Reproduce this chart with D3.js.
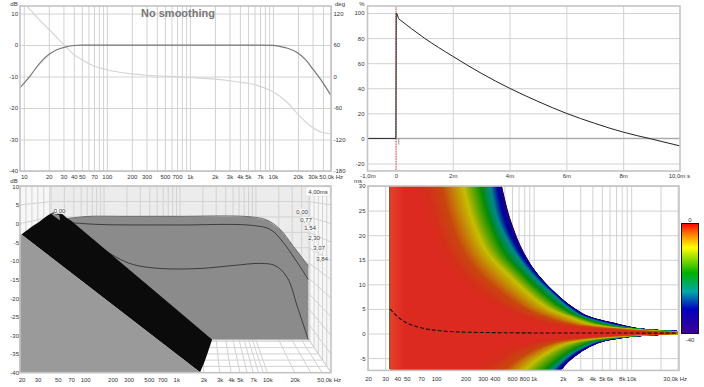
<!DOCTYPE html>
<html><head><meta charset="utf-8">
<script src="https://cdn.jsdelivr.net/npm/d3@7/dist/d3.min.js"></script>
<style>
html,body{margin:0;padding:0;background:#fff;overflow:hidden}
text{font-family:"Liberation Sans",Arial,sans-serif;font-size:6px;fill:#333}
</style></head><body>
<svg id="c" width="704" height="387"></svg>
<script>
// ---------- data ----------
const decadeGrid=[10,20,30,40,50,60,70,80,90,100,200,300,400,500,600,700,800,900,1000,2000,3000,4000,5000,6000,7000,8000,9000,10000,20000,30000,40000,50000];
const responseTicks=[10,20,30,40,50,70,100,200,300,500,700,1000,2000,3000,4000,5000,7000,10000,20000,30000];
const responseFreq=[9,10,12,15,20,25,30,40,50,70,100,1000,7000,10000,12000,15000,20000,25000,30000,40000,50000];
const responseDb=[-13.6,-12.2,-9.7,-6.3,-3,-1.5,-0.8,-0.15,0,0,0,0,-0.02,-0.1,-0.4,-1,-2.5,-4.8,-7.5,-12,-16];
const phaseFreq=[11,15,20,30,40,50,70,100,200,300,500,700,1000,2000,3000,4000,5000,7000,10000,15000,20000,30000,40000,50000];
const phaseDeg=[133,110,90,61,42,32,20,13,5,2.5,0.5,-0.3,-2,-5,-8,-11,-13,-19,-29,-50,-72,-97,-107,-109];
const dbTicks=[10,0,-10,-20,-30,-40];
const degTicks=[120,60,0,-60,-120,-180];

const spikeMs=[-1,0,0.01,0.05,0.09];
const spikePct=[0,0,100,99,95.5];
const decayMs=[0.09,1,2,3,4,5,6,7,8,9,10];
const decayPct=[95.5,80,65.5,52,40,29.5,20,12,5,-0.5,-6];
const dipMs=[0.1,0.1];
const dipPct=[0,-5];
const impulseXTicks=[0,2,4,6,8];
const impulseYTicks=[100,80,60,40,20,0,-20];

const wfTicks=[20,30,50,70,100,200,300,500,700,1000,2000,3000,4000,5000,7000,10000,20000];
const wfDbTicks=[10,5,0,-5,-10,-15,-20,-25,-30,-35,-40];
const wfTimes=[0.77,1.54,2.30,3.07,3.84];
const wfDome=[[20,-2.95],[24.8,-1.2],[31.9,0.62],[38,2],[44.6,2.95],[50,3.05],[55.4,2.6],[62,1.6],[71.3,0.62]];
const wfBandEnd=[[2478,-31.1],[2240,-34.3],[2047,-37],[1826,-39.9]];
const wfFront=[[19,-2.95],[20,-2.95],[1826,-39.9],[19,-39.9]];
const wfSheet=[[62,1.2],[64.9,1.34],[105,1.88],[300,1.92],[1000,1.92],[6486,1.8],[9970,0.88],[13850,-1.6],[19250,-6.1],[28130,-11.3],[28130,-31.1],[2478,-31.1]];
const wfSlice0=[[64.9,1.34],[105,1.88],[300,1.92],[1000,1.92],[6486,1.8],[9970,0.88],[13850,-1.6],[19250,-6.1],[28130,-11.3]];
const wfSlice1=[[71.8,0.19],[146,-0.27],[1000,-0.4],[6486,-0.46],[10760,-1.6],[14960,-5.1],[28130,-15]];
const wfSlice2=[[134,-5.6],[222,-9.1],[336,-11],[665,-12.06],[1826,-12.06],[4220,-11.26],[8360,-10.7],[12200,-11.3],[16550,-14.5],[21300,-22.2],[28130,-31.1]];
const wfNotch=[[41,2.8],[52,2.3],[53,0.8]];
const wfLabels=[["0,00",302,211.7],["0,77",306,219.7],["1,54",310,228.3],["2,30",314,238],["3,07",319,248.3],["3,84",322,258.7],["0,00",59.5,211]];

const heatTicks=[20,30,40,50,70,100,200,300,400,600,800,1000,2000,3000,4000,5000,6000,8000,10000];
const heatGrid=[20,30,40,50,60,70,80,90,100,200,300,400,500,600,700,800,900,1000,2000,3000,4000,5000,6000,7000,8000,9000,10000,20000,30000];
const heatYTicks=[30,25,20,15,10,5,0,-5];
const upperT=[32,23.4,16.6,11.9,7.5,5,3.5,2,1,0.5,0.25];
const lowerT=[-7.6,-5.7,-4,-2.5,-1.67,-0.8,-0.3,-0.15];
const levels=[0,-4,-9,-16,-25,-31,-40];
const upperF=[
 [60,75,100,150,260,400,600,1100,3000,7000,15000],
 [105,135,187,280,520,800,1200,2200,6000,14000,30000],
 [185,238,340,567,983,1500,2300,3700,9000,20000,40000],
 [275,354,505,810,1400,2100,2900,5000,10500,24000,48000],
 [350,428,640,980,1700,2400,3200,5800,11500,27000,52000],
 [410,505,720,1095,1790,2550,3450,6500,12200,30000,56000],
 [450,575,790,1120,1850,2700,3700,7300,12800,32000,60000]];
const lowerF=[
 [200,280,380,600,900,2200,6000,13000],
 [480,620,850,1250,1700,4000,11000,24000],
 [820,1050,1400,1950,2700,6000,15000,30000],
 [1300,1700,2200,3100,3900,7500,17000,35000],
 [1550,1950,2500,3500,4400,8000,18000,37000],
 [1750,2150,2750,3800,4800,8500,19000,39000],
 [1900,2300,2960,4000,5100,8900,19500,40000]];
const heatColorLevels=[0,-2,-4.5,-9,-12,-16,-20,-25,-31,-36,-40];
const heatColors=['#dd2a20','#d52e1b','#c9470f','#c4bc00','#72a800','#058c08','#008a50','#008a8a','#0000a0','#100088','#280070'];
const groupFreq=[33.6,38,44,52,66,80,105,150,220,400,1000,5000,30000];
const groupMs=[5,3.9,2.8,2,1.3,0.9,0.6,0.35,0.25,0.18,0.12,0.1,0.08];
const barOffsets=[0,0.1,0.22,0.45,0.62,0.78,1];
const barColors=['#ff0000','#ff8000','#ffff00','#00b000','#00a8a8','#0000c0','#400090'];

// ---------- helpers ----------
const svg=d3.select('#c');
const defs=svg.append('defs');
const GRID='#d2d2d2',FRAME='#c4c4c4';
const kf=f=>f>=1000?(f/1000)+'k':String(f);
const plain=d=>String(d);

function frame(x0,y0,x1,y1){
  svg.append('rect').attr('x',x0).attr('y',y0).attr('width',x1-x0).attr('height',y1-y0)
    .attr('fill','none').attr('stroke',FRAME).attr('stroke-width',1.6);
}
function gridX(scale,vals,y1,h){
  const g=svg.append('g').attr('transform',`translate(0,${y1})`).call(d3.axisBottom(scale).tickValues(vals).tickSize(-h).tickFormat(''));
  g.select('.domain').remove(); g.selectAll('line').attr('stroke',GRID);
}
function gridY(scale,vals,x0,w){
  const g=svg.append('g').attr('transform',`translate(${x0},0)`).call(d3.axisRight(scale).tickValues(vals).tickSize(w).tickFormat(''));
  g.select('.domain').remove(); g.selectAll('line').attr('stroke',GRID);
}
function labelsX(scale,vals,y,fmt){
  const g=svg.append('g').attr('transform',`translate(0,${y})`).call(d3.axisBottom(scale).tickValues(vals).tickSize(0).tickPadding(0).tickFormat(fmt));
  g.select('.domain').remove();
  g.selectAll('text').attr('dy',0).attr('y',0);
  g.attr('font-family',null).attr('font-size',null);
}
function labelsY(scale,vals,x,left){
  const ax=(left?d3.axisLeft:d3.axisRight)(scale).tickValues(vals).tickSize(0).tickPadding(0).tickFormat(plain);
  const g=svg.append('g').attr('transform',`translate(${x},0)`).call(ax);
  g.select('.domain').remove();
  g.attr('font-family',null).attr('font-size',null);
}
function txt(s,x,y,anchor){
  return svg.append('text').attr('x',x).attr('y',y).attr('text-anchor',anchor||'start').text(s);
}

// ---------- panel 1: frequency response ----------
{
  const x=d3.scaleLog().domain([9,50000]).range([20,331]);
  const y=d3.scaleLinear().domain([-40,12.4]).range([171,6]);
  const yp=d3.scaleLinear().domain([-180,134.3]).range([171,6]);
  gridX(x,decadeGrid,171,165); gridY(y,dbTicks,20,311);
  defs.append('clipPath').attr('id','c1').append('rect').attr('x',20).attr('y',6).attr('width',311).attr('height',165);
  const g=svg.append('g').attr('clip-path','url(#c1)');
  g.append('path').attr('d',d3.line().x((d,i)=>x(phaseFreq[i])).y(d=>yp(d)).curve(d3.curveMonotoneX)(phaseDeg))
    .attr('fill','none').attr('stroke','#d4d4d4').attr('stroke-width',1.1);
  g.append('path').attr('d',d3.line().x((d,i)=>x(responseFreq[i])).y(d=>y(d)).curve(d3.curveMonotoneX)(responseDb))
    .attr('fill','none').attr('stroke','#777').attr('stroke-width',1.2);
  frame(20,6,331,171);
  labelsX(x,responseTicks,179,kf);
  txt('50,0k Hz',343,179,'end');
  labelsY(y,dbTicks,18,true);
  labelsY(yp,degTicks,333.5,false);
  txt('dB',14,5.5,'middle'); txt('deg',340,5.5,'middle');
  svg.append('text').attr('x',178).attr('y',17).attr('text-anchor','middle').style('font-size','11px').style('font-weight','bold').style('fill','#777').text('No smoothing');
}

// ---------- panel 2: impulse ----------
{
  const x=d3.scaleLinear().domain([-1,10]).range([367.5,680]);
  const y=d3.scaleLinear().domain([-26,105.6]).range([171,6]);
  gridX(x,impulseXTicks,171,165); gridY(y,impulseYTicks,367.5,312.5);
  svg.append('line').attr('x1',x(0)).attr('x2',x(10)).attr('y1',y(0)).attr('y2',y(0)).attr('stroke','#aaa').attr('stroke-width',1.2);
  svg.append('line').attr('x1',x(0)).attr('x2',x(0)).attr('y1',y(105.6)).attr('y2',y(-26)).attr('stroke','#f08080').attr('stroke-dasharray','1.5 1').attr('stroke-width',1.4);
  svg.append('path').attr('d',d3.line().x((d,i)=>x(dipMs[i])).y(d=>y(d))(dipPct)).attr('fill','none').attr('stroke','#999').attr('stroke-width',1);
  svg.append('path').attr('d',d3.line().x((d,i)=>x(spikeMs[i])).y(d=>y(d))(spikePct)).attr('fill','none').attr('stroke','#222').attr('stroke-width',1);
  svg.append('path').attr('d',d3.line().x((d,i)=>x(decayMs[i])).y(d=>y(d)).curve(d3.curveMonotoneX)(decayPct)).attr('fill','none').attr('stroke','#222').attr('stroke-width',1);
  frame(367.5,6,680,171);
  labelsX(x,impulseXTicks,178,d=>d===0?'0':d+'m');
  txt('-1,0m',368,178,'middle'); txt('10,0m s',690,178,'end');
  labelsY(y,impulseYTicks,364.5,true);
  txt('%',362,5.5,'middle');
}

// ---------- panel 3: waterfall ----------
{
  const x=d3.scaleLog().domain([20,50000]).range([21.5,331]);
  const y=d3.scaleLinear().domain([-40,10]).range([372.7,186.2]);
  const xb=d3.scaleLog().domain([20,50000]).range([51,309]);
  const yb=d3.scaleLinear().domain([-40,10]).range([340,186.2]);
  const depth=t=>t/4;
  svg.append('rect').attr('x',20).attr('y',186).attr('width',311).attr('height',186.7).attr('fill','#f7f7f7');
  svg.append('rect').attr('x',51).attr('y',186).attr('width',258).attr('height',154).attr('fill','#ececec');
  svg.append('path').attr('d',d3.line()([[xb(50000),340],[x(50000),y(-40)],[20,y(-40)],[xb(20),340]])).attr('fill','#fff');
  const g=svg.append('g');
  decadeGrid.filter(f=>f>=20).forEach(f=>{
    g.append('line').attr('x1',xb(f)).attr('x2',xb(f)).attr('y1',186).attr('y2',340).attr('stroke',GRID);
    g.append('line').attr('x1',xb(f)).attr('x2',x(f)).attr('y1',340).attr('y2',y(-40)).attr('stroke',GRID);
  });
  wfDbTicks.forEach(d=>{
    g.append('line').attr('x1',xb(20)).attr('x2',xb(50000)).attr('y1',yb(d)).attr('y2',yb(d)).attr('stroke',GRID);
    g.append('line').attr('x1',20).attr('x2',xb(20)).attr('y1',y(d)).attr('y2',yb(d)).attr('stroke',GRID);
    g.append('line').attr('x1',xb(50000)).attr('x2',x(50000)).attr('y1',yb(d)).attr('y2',y(d)).attr('stroke',GRID);
  });
  wfTimes.forEach(t=>{
    const k=depth(t), yy=y(-40)+(340-y(-40))*k;
    const xr=x(50000)+(xb(50000)-x(50000))*k, xl=20+(xb(20)-20)*k;
    g.append('line').attr('x1',xl).attr('x2',xr).attr('y1',yy).attr('y2',yy).attr('stroke',GRID);
    g.append('line').attr('x1',xr).attr('x2',xr).attr('y1',186).attr('y2',yy).attr('stroke',GRID);
    g.append('line').attr('x1',xl).attr('x2',xl).attr('y1',186).attr('y2',yy).attr('stroke',GRID);
  });
  const straight=d3.line().x(d=>x(d[0])).y(d=>y(d[1]));
  const round=d3.line().x(d=>x(d[0])).y(d=>y(d[1])).curve(d3.curveCatmullRom);
  svg.append('path').attr('d',straight(wfSheet)+'Z').attr('fill','#8b8b8b');
  svg.append('path').attr('d',round(wfSlice0)).attr('fill','none').attr('stroke','#6a6a6a').attr('stroke-width',1);
  svg.append('path').attr('d',round(wfSlice1)).attr('fill','none').attr('stroke','#3c3c3c').attr('stroke-width',1);
  svg.append('path').attr('d',round(wfSlice2)).attr('fill','none').attr('stroke','#3c3c3c').attr('stroke-width',1);
  svg.append('path').attr('d',round(wfDome)+'L'+round(wfBandEnd).slice(1)+'L'+x(wfFront[1][0])+','+y(wfFront[1][1])+'Z').attr('fill','#0b0b0b');
  svg.append('path').attr('d',straight(wfFront)+'Z').attr('fill','#9a9a9a');
  svg.append('path').attr('d',straight(wfNotch)+'Z').attr('fill','#8d8d8d');
  wfLabels.forEach(l=>{
    svg.append('rect').attr('x',l[1]-5.5).attr('y',l[2]-2.8).attr('width',11).attr('height',5.6).attr('fill','#fff').attr('stroke','#ddd').attr('stroke-width',0.5);
    txt(l[0],l[1],l[2]+2.1,'middle');
  });
  svg.append('rect').attr('x',306).attr('y',187).attr('width',24).attr('height',9).attr('fill','#fff').attr('stroke','#ddd').attr('stroke-width',0.6);
  txt('4,00ms',318,193.8,'middle');
  frame(20,186,331,372.7);
  labelsX(x,wfTicks,381.5,kf);
  txt('50,0k Hz',341,381.5,'end');
  labelsY(y,wfDbTicks,19,true);
  txt('dB',14,183,'middle');
}

// ---------- panel 4: spectrogram ----------
{
  const x=d3.scaleLog().domain([20,30000]).range([368,677.7]);
  const y=d3.scaleLinear().domain([-7.5,30]).range([370.4,186]);
  gridX(x,heatGrid,370.4,184.4); gridY(y,heatYTicks,368,311);
  defs.append('clipPath').attr('id','c4').append('rect').attr('x',x(33.6)).attr('y',y(30)).attr('width',x(30000)-x(33.6)).attr('height',y(-7.3)-y(30));
  const g=svg.append('g').attr('clip-path','url(#c4)');
  const color=d3.scaleLinear().domain(heatColorLevels).range(heatColors);
  const lg=(a,b,t)=>Math.exp(Math.log(a)*(1-t)+Math.log(b)*t);
  const line=d3.line().x(d=>x(d[0])).y(d=>y(d[1])).curve(d3.curveCatmullRom.alpha(0.5));
  const row=(tbl,i,t,ts)=>ts.map((tv,k)=>[lg(tbl[i][k],tbl[i+1][k],t),tv]);
  d3.range(-40,0.01,0.5).forEach(L=>{
    let i=levels.findIndex((v,n)=>n<levels.length-1&&L<=v&&L>=levels[n+1]);
    const t=(levels[i]-L)/(levels[i]-levels[i+1]);
    const up=row(upperF,i,t,upperT), lo=row(lowerF,i,t,lowerT).reverse();
    const d=`M${x(10)},${y(32)}L`+line(up).slice(1)+'L'+line(lo).slice(1)+`L${x(10)},${y(-7.6)}Z`;
    g.append('path').attr('d',d).attr('fill',color(L));
  });
  const gr=defs.append('linearGradient').attr('id','leftFade');
  gr.append('stop').attr('offset',0).attr('stop-color','#f06040').attr('stop-opacity',0.4);
  gr.append('stop').attr('offset',1).attr('stop-color','#f06040').attr('stop-opacity',0);
  g.append('rect').attr('x',x(33.6)).attr('y',186).attr('width',14).attr('height',185).attr('fill','url(#leftFade)');
  svg.append('path').attr('d',d3.line().x((d,i)=>x(groupFreq[i])).y(d=>y(d)).curve(d3.curveMonotoneX)(groupMs))
    .attr('fill','none').attr('stroke','#111').attr('stroke-width',1.1).attr('stroke-dasharray','4 2');
  frame(368,186,679,370.4);
  labelsX(x,heatTicks,380.5,kf);
  txt('30,0k Hz',687,380.5,'end');
  labelsY(y,heatYTicks,365.5,true);
  txt('ms',358,183,'middle');
  const b=defs.append('linearGradient').attr('id','bar').attr('x1',0).attr('x2',0).attr('y1',0).attr('y2',1);
  barOffsets.forEach((o,i)=>b.append('stop').attr('offset',o).attr('stop-color',barColors[i]));
  svg.append('rect').attr('x',681.5).attr('y',223.5).attr('width',17).attr('height',110).attr('fill','url(#bar)').attr('stroke','#111').attr('stroke-width',1);
  txt('0',690,221.5,'middle'); txt('-40',690,341.5,'middle');
}
</script></body></html>
